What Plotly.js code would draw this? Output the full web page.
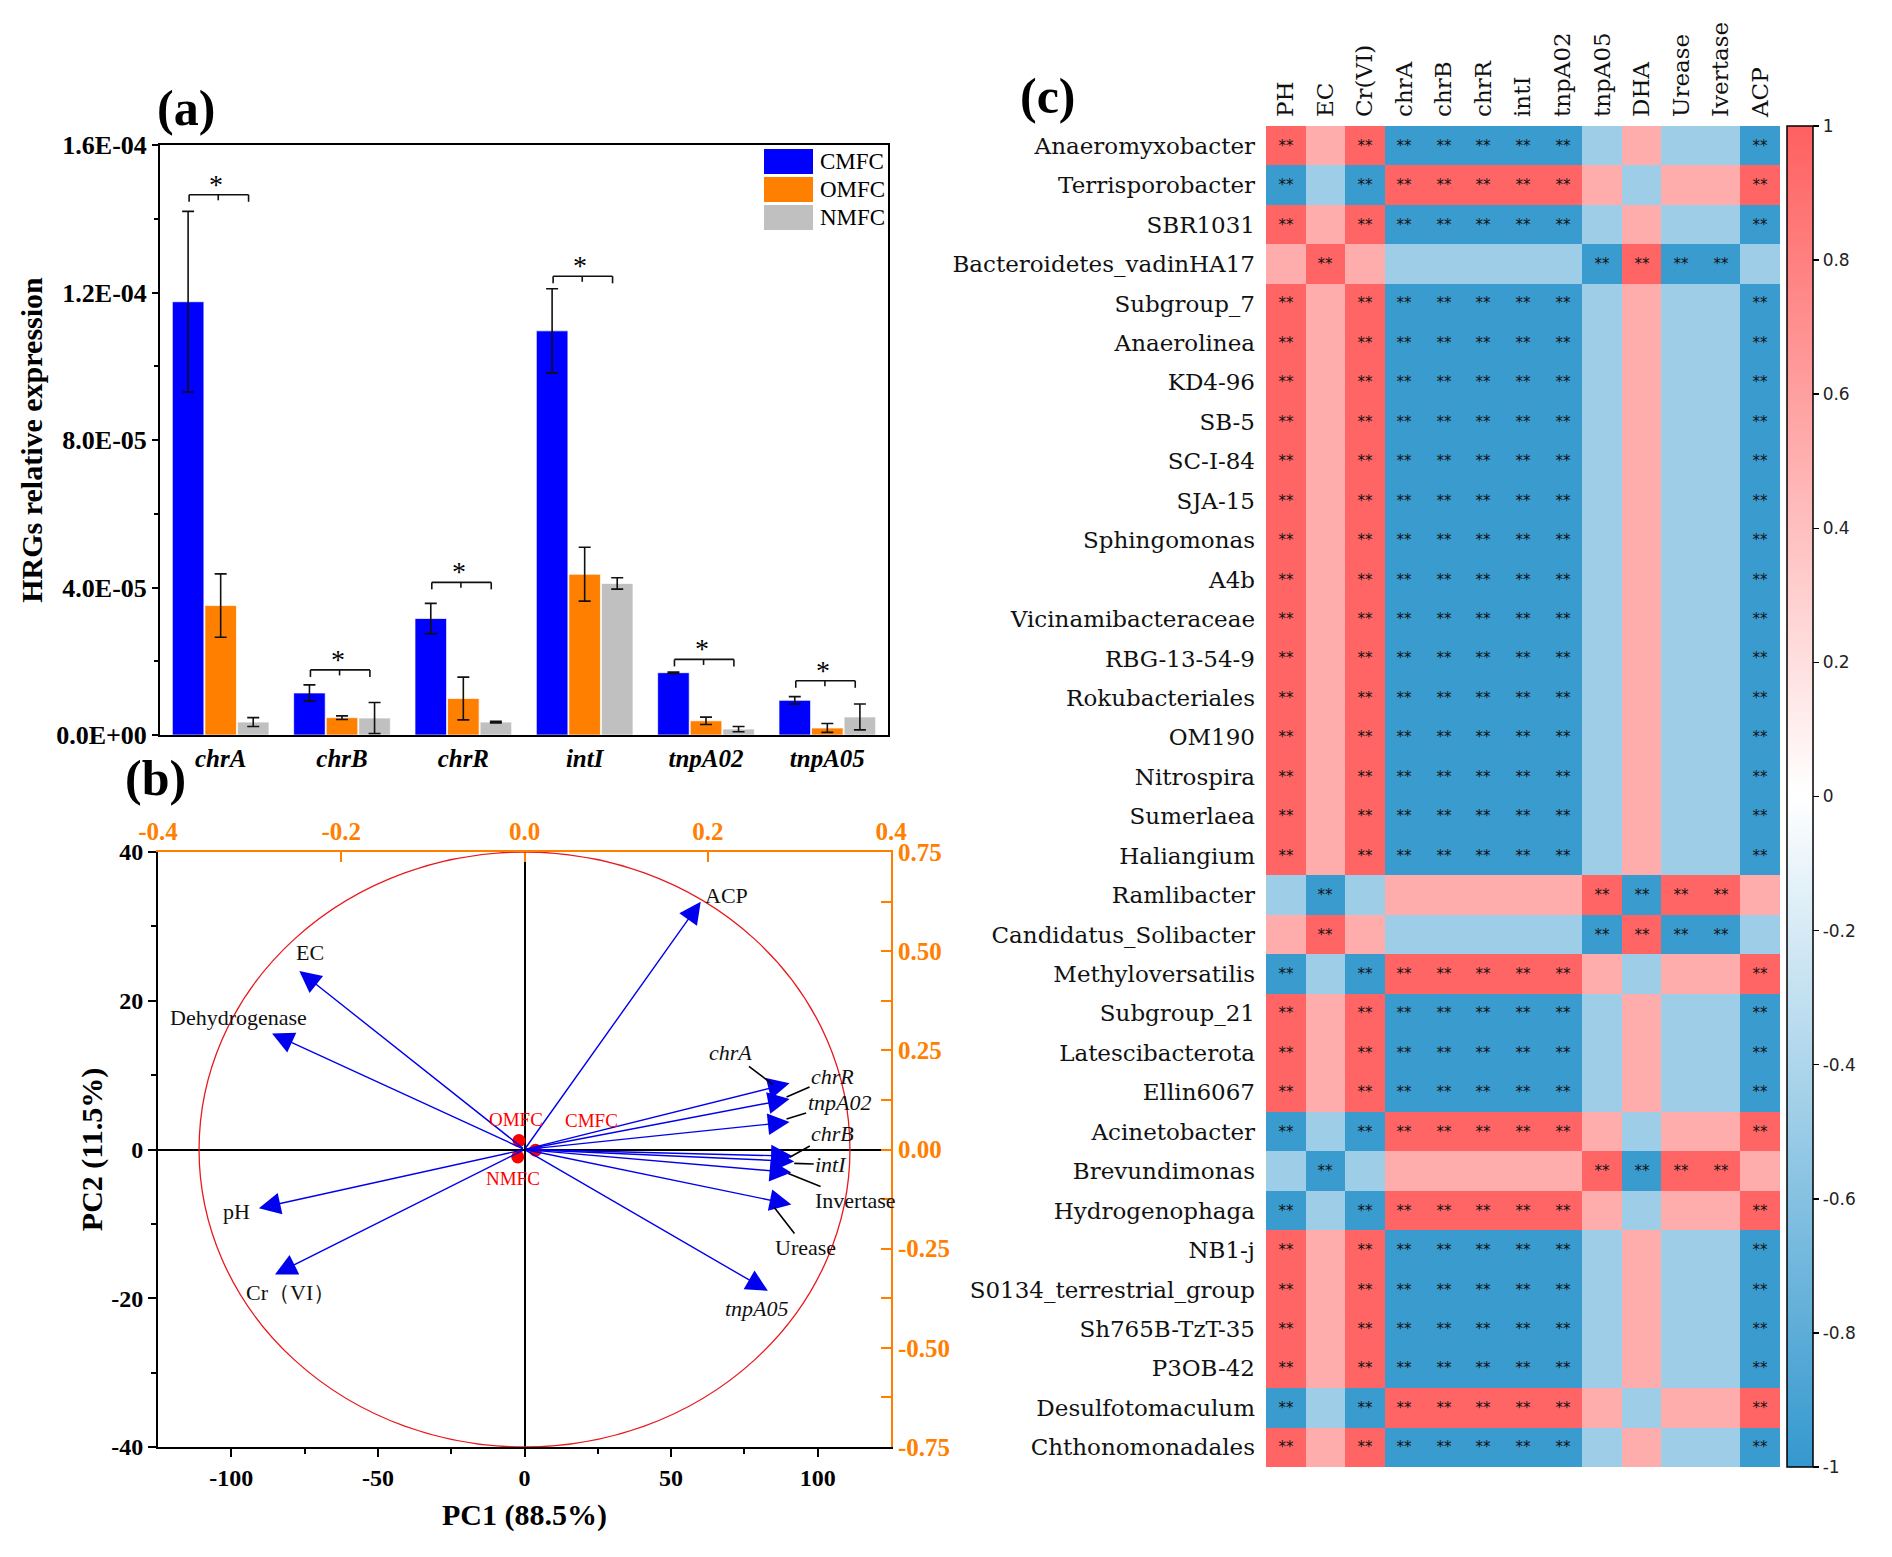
<!DOCTYPE html>
<html><head><meta charset="utf-8">
<script src="https://cdn.plot.ly/plotly-3.0.1.min.js"></script>
<style>html,body{margin:0;padding:0;background:#fff}#chart{width:1892px;height:1557px}</style>
</head><body><div id="chart"></div>
<script>
// ================= DATA =================
// Panel (a): HRGs relative expression
const genes = ['chrA', 'chrB', 'chrR', 'intI', 'tnpA02', 'tnpA05'];
const groupNames = ['CMFC', 'OMFC', 'NMFC'];
const cmfcVals = [1.175e-4, 1.14e-5, 3.16e-5, 1.096e-4, 1.69e-5, 9.4e-6];
const cmfcErr  = [2.45e-5, 2.2e-6, 4.1e-6, 1.14e-5, 2e-7, 1.0e-6];
const omfcVals = [3.51e-5, 4.7e-6, 9.9e-6, 4.36e-5, 3.85e-6, 1.9e-6];
const omfcErr  = [8.6e-6, 5e-7, 5.8e-6, 7.3e-6, 1.0e-6, 1.2e-6];
const nmfcVals = [3.5e-6, 4.6e-6, 3.5e-6, 4.11e-5, 1.6e-6, 4.9e-6];
const nmfcErr  = [1.2e-6, 4.2e-6, 2e-7, 1.55e-6, 7e-7, 3.5e-6];
const sigHeight = [1.465e-4, 1.765e-5, 4.14e-5, 1.244e-4, 2.05e-5, 1.47e-5];
const sigMark = ['*', '*', '*', '*', '*', '*'];
const aTickVals = [0, 4e-5, 8e-5, 1.2e-4, 1.6e-4];
const aTickText = ['0.0E+00', '4.0E-05', '8.0E-05', '1.2E-04', '1.6E-04'];

// Panel (b): PCA biplot
const loadNames = ['ACP', 'EC', 'Dehydrogenase', 'pH', 'Cr（VI）', 'chrA', 'chrR', 'tnpA02', 'chrB', 'intI', 'Invertase', 'Urease', 'tnpA05'];
const loadPC1 = [60.1, -76.8, -86.1, -90.6, -85.1, 90.4, 90.4, 90.4, 91.5, 92.0, 91.0, 91.0, 83.0];
const loadPC2 = [33.3, 24.0, 15.6, -7.9, -16.8, 8.9, 6.8, 3.7, -0.9, -1.6, -3.1, -7.4, -19.0];
const sampleNames = ['CMFC', 'OMFC', 'NMFC'];
const samplePC1 = [3.75, -1.9, -2.3];
const samplePC2 = [-0.1, 1.2, -1.0];
const pcXTickVals = [-100, -50, 0, 50, 100];
const pcXTickText = ['-100', '-50', '0', '50', '100'];
const pcYTickVals = [-40, -20, 0, 20, 40];
const pcYTickText = ['-40', '-20', '0', '20', '40'];
const topTickVals = [-0.4, -0.2, 0, 0.2, 0.4];
const topTickText = ['-0.4', '-0.2', '0.0', '0.2', '0.4'];
const rightTickVals = [0.75, 0.5, 0.25, 0, -0.25, -0.5, -0.75];
const rightTickText = ['0.75', '0.50', '0.25', '0.00', '-0.25', '-0.50', '-0.75'];

// Panel (c): correlation heatmap
const taxa = ['Anaeromyxobacter', 'Terrisporobacter', 'SBR1031', 'Bacteroidetes_vadinHA17', 'Subgroup_7',
  'Anaerolinea', 'KD4-96', 'SB-5', 'SC-I-84', 'SJA-15', 'Sphingomonas', 'A4b', 'Vicinamibacteraceae',
  'RBG-13-54-9', 'Rokubacteriales', 'OM190', 'Nitrospira', 'Sumerlaea', 'Haliangium', 'Ramlibacter',
  'Candidatus_Solibacter', 'Methyloversatilis', 'Subgroup_21', 'Latescibacterota', 'Ellin6067',
  'Acinetobacter', 'Brevundimonas', 'Hydrogenophaga', 'NB1-j', 'S0134_terrestrial_group',
  'Sh765B-TzT-35', 'P3OB-42', 'Desulfotomaculum', 'Chthonomonadales'];
const factors = ['PH', 'EC', 'Cr(VI)', 'chrA', 'chrB', 'chrR', 'intI', 'tnpA02', 'tnpA05', 'DHA', 'Urease', 'Ivertase', 'ACP'];
const corr = [
  [0.97, 0.52, 0.97, -0.97, -0.97, -0.97, -0.97, -0.97, -0.48, 0.52, -0.48, -0.48, -0.97],
  [-0.97, -0.48, -0.97, 0.97, 0.97, 0.97, 0.97, 0.97, 0.52, -0.48, 0.52, 0.52, 0.97],
  [0.97, 0.52, 0.97, -0.97, -0.97, -0.97, -0.97, -0.97, -0.48, 0.52, -0.48, -0.48, -0.97],
  [0.52, 0.97, 0.52, -0.48, -0.48, -0.48, -0.48, -0.48, -0.97, 0.97, -0.97, -0.97, -0.48],
  [0.97, 0.52, 0.97, -0.97, -0.97, -0.97, -0.97, -0.97, -0.48, 0.52, -0.48, -0.48, -0.97],
  [0.97, 0.52, 0.97, -0.97, -0.97, -0.97, -0.97, -0.97, -0.48, 0.52, -0.48, -0.48, -0.97],
  [0.97, 0.52, 0.97, -0.97, -0.97, -0.97, -0.97, -0.97, -0.48, 0.52, -0.48, -0.48, -0.97],
  [0.97, 0.52, 0.97, -0.97, -0.97, -0.97, -0.97, -0.97, -0.48, 0.52, -0.48, -0.48, -0.97],
  [0.97, 0.52, 0.97, -0.97, -0.97, -0.97, -0.97, -0.97, -0.48, 0.52, -0.48, -0.48, -0.97],
  [0.97, 0.52, 0.97, -0.97, -0.97, -0.97, -0.97, -0.97, -0.48, 0.52, -0.48, -0.48, -0.97],
  [0.97, 0.52, 0.97, -0.97, -0.97, -0.97, -0.97, -0.97, -0.48, 0.52, -0.48, -0.48, -0.97],
  [0.97, 0.52, 0.97, -0.97, -0.97, -0.97, -0.97, -0.97, -0.48, 0.52, -0.48, -0.48, -0.97],
  [0.97, 0.52, 0.97, -0.97, -0.97, -0.97, -0.97, -0.97, -0.48, 0.52, -0.48, -0.48, -0.97],
  [0.97, 0.52, 0.97, -0.97, -0.97, -0.97, -0.97, -0.97, -0.48, 0.52, -0.48, -0.48, -0.97],
  [0.97, 0.52, 0.97, -0.97, -0.97, -0.97, -0.97, -0.97, -0.48, 0.52, -0.48, -0.48, -0.97],
  [0.97, 0.52, 0.97, -0.97, -0.97, -0.97, -0.97, -0.97, -0.48, 0.52, -0.48, -0.48, -0.97],
  [0.97, 0.52, 0.97, -0.97, -0.97, -0.97, -0.97, -0.97, -0.48, 0.52, -0.48, -0.48, -0.97],
  [0.97, 0.52, 0.97, -0.97, -0.97, -0.97, -0.97, -0.97, -0.48, 0.52, -0.48, -0.48, -0.97],
  [0.97, 0.52, 0.97, -0.97, -0.97, -0.97, -0.97, -0.97, -0.48, 0.52, -0.48, -0.48, -0.97],
  [-0.48, -0.97, -0.48, 0.52, 0.52, 0.52, 0.52, 0.52, 0.97, -0.97, 0.97, 0.97, 0.52],
  [0.52, 0.97, 0.52, -0.48, -0.48, -0.48, -0.48, -0.48, -0.97, 0.97, -0.97, -0.97, -0.48],
  [-0.97, -0.48, -0.97, 0.97, 0.97, 0.97, 0.97, 0.97, 0.52, -0.48, 0.52, 0.52, 0.97],
  [0.97, 0.52, 0.97, -0.97, -0.97, -0.97, -0.97, -0.97, -0.48, 0.52, -0.48, -0.48, -0.97],
  [0.97, 0.52, 0.97, -0.97, -0.97, -0.97, -0.97, -0.97, -0.48, 0.52, -0.48, -0.48, -0.97],
  [0.97, 0.52, 0.97, -0.97, -0.97, -0.97, -0.97, -0.97, -0.48, 0.52, -0.48, -0.48, -0.97],
  [-0.97, -0.48, -0.97, 0.97, 0.97, 0.97, 0.97, 0.97, 0.52, -0.48, 0.52, 0.52, 0.97],
  [-0.48, -0.97, -0.48, 0.52, 0.52, 0.52, 0.52, 0.52, 0.97, -0.97, 0.97, 0.97, 0.52],
  [-0.97, -0.48, -0.97, 0.97, 0.97, 0.97, 0.97, 0.97, 0.52, -0.48, 0.52, 0.52, 0.97],
  [0.97, 0.52, 0.97, -0.97, -0.97, -0.97, -0.97, -0.97, -0.48, 0.52, -0.48, -0.48, -0.97],
  [0.97, 0.52, 0.97, -0.97, -0.97, -0.97, -0.97, -0.97, -0.48, 0.52, -0.48, -0.48, -0.97],
  [0.97, 0.52, 0.97, -0.97, -0.97, -0.97, -0.97, -0.97, -0.48, 0.52, -0.48, -0.48, -0.97],
  [0.97, 0.52, 0.97, -0.97, -0.97, -0.97, -0.97, -0.97, -0.48, 0.52, -0.48, -0.48, -0.97],
  [-0.97, -0.48, -0.97, 0.97, 0.97, 0.97, 0.97, 0.97, 0.52, -0.48, 0.52, 0.52, 0.97],
  [0.97, 0.52, 0.97, -0.97, -0.97, -0.97, -0.97, -0.97, -0.48, 0.52, -0.48, -0.48, -0.97]
];
const cbTickVals = [1, 0.8, 0.6, 0.4, 0.2, 0, -0.2, -0.4, -0.6, -0.8, -1];
const cbTickText = ['1', '0.8', '0.6', '0.4', '0.2', '0', '-0.2', '-0.4', '-0.6', '-0.8', '-1'];

// ================= STYLE =================
const SERIF = 'Liberation Serif';
const groupColors = ['#0000FF', '#FF8000', '#C0C0C0'];
const ORANGE = '#FF8000';
const ARROW_BLUE = '#0000EE';
// loadings: italic flag & label placement (pixel offsets)
const loadItalic = [false, false, false, false, false, true, true, true, true, true, false, false, true];
// plain labels: [xshift, yshift]; leader labels: {ex, ey, ax, ay}
const loadLabel = [
  {dx: 26, dy: 6}, {dx: 11, dy: 19}, {dx: -34, dy: 16}, {dx: -22, dy: -3}, {dx: 16, dy: -18},
  {ex: -17, ey: -1, ax: -42, ay: -32},
  {ex: -3, ey: 2, ax: 46, ay: -20},
  {ex: -3, ey: 3, ax: 53, ay: -16},
  {ex: -3, ey: -1, ax: 43, ay: -24},
  {ex: 0, ey: -2, ax: 37, ay: 1},
  {ex: -3, ey: -1, ax: 67, ay: 27},
  {ex: -17, ey: -3, ax: 31, ay: 40},
  {dx: -11, dy: -18}
];
const sampleLabelShift = [[56, 30], [-3, 21], [-5, -22]];

// ================= TRACES =================
const traces = [];
const groupVals = [cmfcVals, omfcVals, nmfcVals];
const groupErrs = [cmfcErr, omfcErr, nmfcErr];
groupNames.forEach((g, k) => {
  traces.push({
    type: 'bar', name: g, x: genes, y: groupVals[k], xaxis: 'x', yaxis: 'y',
    marker: {color: groupColors[k], line: {color: 'rgba(255,255,255,0.7)', width: 1}},
    error_y: {type: 'data', array: groupErrs[k], visible: true, color: '#111', thickness: 1.6, width: 6},
    hoverinfo: 'skip', showlegend: false
  });
});
traces.push({
  type: 'scatter', mode: 'markers', x: samplePC1, y: samplePC2, xaxis: 'x2', yaxis: 'y2',
  marker: {color: '#FF0000', size: 13}, hoverinfo: 'skip', showlegend: false
});
traces.push({
  type: 'scatter', mode: 'markers', x: [0], y: [0], xaxis: 'x3', yaxis: 'y3',
  marker: {opacity: 0}, hoverinfo: 'skip', showlegend: false
});
const sigText = corr.map(r => r.map(v => Math.abs(v) > 0.9 ? '**' : ''));
traces.push({
  type: 'heatmap', x: factors, y: taxa, z: corr, xaxis: 'x4', yaxis: 'y4',
  zmin: -1, zmax: 1,
  colorscale: [[0, 'rgb(52,152,206)'], [0.5, 'rgb(255,255,255)'], [1, 'rgb(255,96,96)']],
  text: sigText, texttemplate: '%{text}',
  textfont: {family: 'DejaVu Sans', size: 15, color: '#111'},
  hoverinfo: 'skip',
  colorbar: {
    x: 1787 / 1892, xanchor: 'left', xpad: 0, ypad: 0,
    y: 1 - 126 / 1557, yanchor: 'top', len: 1341, lenmode: 'pixels',
    thickness: 26, thicknessmode: 'pixels',
    outlinewidth: 1.5, outlinecolor: '#000',
    ticks: 'outside', ticklen: 6, tickwidth: 1.5, tickcolor: '#000',
    tickmode: 'array', tickvals: cbTickVals, ticktext: cbTickText,
    tickfont: {family: 'DejaVu Sans', size: 17, color: '#222'}
  }
});

// ================= SHAPES & ANNOTATIONS =================
const shapes = [];
const annotations = [];
const P = (px) => px / 1892, Q = (py) => 1 - py / 1557;

// panel letters
[['(a)', 186, 108], ['(b)', 155, 778], ['(c)', 1048, 96]].forEach(([t, x, y]) => {
  annotations.push({text: t, xref: 'paper', yref: 'paper', x: P(x), y: Q(y), showarrow: false,
    xanchor: 'center', yanchor: 'middle', font: {family: SERIF, size: 50, weight: 'bold', color: '#000'}});
});

// significance brackets (a)
genes.forEach((g, i) => {
  const h = sigHeight[i], L = i - 0.26, R = i + 0.23, M = i - 0.02;
  const ln = {color: '#111', width: 1.6};
  shapes.push({type: 'line', xref: 'x', yref: 'y', x0: L, x1: R, y0: h, y1: h, line: ln});
  shapes.push({type: 'line', xref: 'x', yref: 'y', x0: L, x1: L, y0: h, y1: h - 1.9e-6, line: ln});
  shapes.push({type: 'line', xref: 'x', yref: 'y', x0: R, x1: R, y0: h, y1: h - 1.9e-6, line: ln});
  shapes.push({type: 'line', xref: 'x', yref: 'y', x0: M, x1: M, y0: h, y1: h - 1.5e-6, line: ln});
  annotations.push({text: sigMark[i], xref: 'x', yref: 'y', x: i - 0.035, y: h, yanchor: 'bottom',
    yshift: -7, showarrow: false, font: {family: SERIF, size: 28, color: '#000'}});
});

// legend (a)
const legRows = [[149, 174], [177, 202], [205, 230]];
groupNames.forEach((g, k) => {
  const [t, b] = legRows[k];
  shapes.push({type: 'rect', xref: 'paper', yref: 'paper', x0: P(764), x1: P(813), y0: Q(b), y1: Q(t),
    fillcolor: groupColors[k], line: {width: 0}});
  annotations.push({text: g, xref: 'paper', yref: 'paper', x: P(818), y: Q((t + b) / 2), xanchor: 'left',
    yanchor: 'middle', showarrow: false, font: {family: SERIF, size: 23, color: '#000'}});
});

// PCA circle
shapes.push({type: 'circle', xref: 'x2', yref: 'y2', x0: -111, x1: 111, y0: -40, y1: 40,
  line: {color: '#E8191E', width: 1.3}});

// loading arrows & labels
loadNames.forEach((n, i) => {
  annotations.push({text: '', xref: 'x2', yref: 'y2', x: loadPC1[i], y: loadPC2[i],
    axref: 'x2', ayref: 'y2', ax: 0, ay: 0, showarrow: true, arrowhead: 2, arrowsize: 3.1,
    arrowwidth: 1.4, arrowcolor: ARROW_BLUE, standoff: 0});
  const lab = loadItalic[i] ? '<i>' + n + '</i>' : n;
  const f = {family: SERIF, size: 22, color: '#111'};
  const s = loadLabel[i];
  if (s.ex !== undefined) {
    annotations.push({text: lab, xref: 'x2', yref: 'y2', x: loadPC1[i], y: loadPC2[i],
      xshift: s.ex, yshift: s.ey, ax: s.ax, ay: s.ay, showarrow: true, arrowhead: 0,
      arrowwidth: 1.6, arrowcolor: '#000', standoff: 0, font: f});
  } else {
    annotations.push({text: lab, xref: 'x2', yref: 'y2', x: loadPC1[i], y: loadPC2[i],
      xshift: s.dx, yshift: s.dy, showarrow: false, font: f});
  }
});
sampleNames.forEach((n, i) => {
  annotations.push({text: n, xref: 'x2', yref: 'y2', x: samplePC1[i], y: samplePC2[i],
    xshift: sampleLabelShift[i][0], yshift: sampleLabelShift[i][1], showarrow: false,
    font: {family: SERIF, size: 19, color: '#FF0000'}});
});

// ================= LAYOUT =================
const tickBold = (size, color) => ({family: SERIF, size: size, weight: 'bold', color: color || '#000'});
const layout = {
  width: 1892, height: 1557, margin: {l: 0, r: 0, t: 0, b: 0},
  paper_bgcolor: '#fff', plot_bgcolor: 'rgba(0,0,0,0)', showlegend: false,
  font: {family: SERIF, color: '#000'},
  barmode: 'group', bargap: 0.195, bargroupgap: 0.03,
  xaxis: {domain: [P(160), P(888)], anchor: 'y', type: 'category', range: [-0.5, 5.5],
    showline: true, mirror: true, linecolor: '#000', linewidth: 2, ticks: '', showgrid: false,
    zeroline: false, tickfont: {family: SERIF, size: 25, weight: 'bold', style: 'italic', color: '#000'}},
  yaxis: {domain: [Q(735), Q(145)], anchor: 'x', range: [0, 1.6e-4], tickmode: 'array',
    tickvals: aTickVals, ticktext: aTickText, ticks: 'outside', ticklen: 6, tickwidth: 2, tickcolor: '#000',
    minor: {tickvals: [2e-5, 6e-5, 1e-4, 1.4e-4], ticks: 'outside', ticklen: 4, tickwidth: 2, tickcolor: '#000'},
    showline: true, mirror: true, linecolor: '#000', linewidth: 2, showgrid: false, zeroline: false,
    tickfont: tickBold(26),
    title: {text: 'HRGs relative expression', font: {family: SERIF, size: 30, weight: 'bold'}, standoff: 5}},
  xaxis2: {domain: [P(158), P(891)], anchor: 'y2', range: [-125, 125], tickmode: 'array',
    tickvals: pcXTickVals, ticktext: pcXTickText, ticks: 'outside', ticklen: 8, tickwidth: 2, tickcolor: '#000',
    minor: {tickvals: [-75, -25, 25, 75], ticks: 'outside', ticklen: 5, tickwidth: 2, tickcolor: '#000'},
    showline: true, linecolor: '#000', linewidth: 2, showgrid: false,
    zeroline: true, zerolinecolor: '#000', zerolinewidth: 2, tickfont: tickBold(24),
    title: {text: 'PC1 (88.5%)', font: {family: SERIF, size: 30, weight: 'bold'}, standoff: 14}},
  yaxis2: {domain: [Q(1447), Q(852)], anchor: 'x2', range: [-40, 40], tickmode: 'array',
    tickvals: pcYTickVals, ticktext: pcYTickText, ticks: 'outside', ticklen: 8, tickwidth: 2, tickcolor: '#000',
    minor: {tickvals: [-30, -10, 10, 30], ticks: 'outside', ticklen: 5, tickwidth: 2, tickcolor: '#000'},
    showline: true, linecolor: '#000', linewidth: 2, showgrid: false,
    zeroline: true, zerolinecolor: '#000', zerolinewidth: 2, tickfont: tickBold(24),
    title: {text: 'PC2 (11.5%)', font: {family: SERIF, size: 30, weight: 'bold'}, standoff: 0}},
  xaxis3: {overlaying: 'x2', side: 'top', anchor: 'y2', range: [-0.4, 0.4], tickmode: 'array',
    tickvals: topTickVals, ticktext: topTickText, ticks: 'inside', ticklen: 10, tickwidth: 2, tickcolor: ORANGE,
    showline: true, linecolor: ORANGE, linewidth: 2, showgrid: false, zeroline: false,
    tickfont: tickBold(25, ORANGE)},
  yaxis3: {overlaying: 'y2', side: 'right', anchor: 'x2', range: [-0.75, 0.75], tickmode: 'array',
    tickvals: rightTickVals, ticktext: rightTickText, ticks: 'inside', ticklen: 10, tickwidth: 2, tickcolor: ORANGE,
    minor: {tickvals: [-0.625, -0.375, -0.125, 0.125, 0.375, 0.625], ticks: 'inside', ticklen: 10, tickwidth: 2, tickcolor: ORANGE},
    showline: true, linecolor: ORANGE, linewidth: 2, showgrid: false, zeroline: false,
    tickfont: tickBold(25, ORANGE)},
  xaxis4: {domain: [P(1266), P(1780)], anchor: 'y4', side: 'top', tickangle: -90, ticks: '',
    showline: false, showgrid: false, zeroline: false, ticklabelstandoff: 8,
    tickfont: {family: 'DejaVu Serif', size: 23, color: '#111'}},
  yaxis4: {domain: [Q(1467), Q(126)], anchor: 'x4', autorange: 'reversed', ticks: '',
    showline: false, showgrid: false, zeroline: false, ticklabelstandoff: 10,
    tickfont: {family: 'DejaVu Serif', size: 23, color: '#111'}},
  shapes: shapes, annotations: annotations
};

Plotly.newPlot('chart', traces, layout, {displayModeBar: false, staticPlot: true});
</script>
</body></html>
